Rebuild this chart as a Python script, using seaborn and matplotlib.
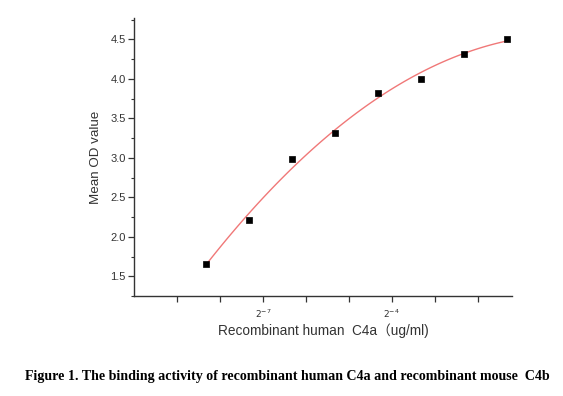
import numpy as np
import pandas as pd
import matplotlib
matplotlib.use("Agg")
import matplotlib.pyplot as plt
import seaborn as sns
from matplotlib.ticker import FixedLocator, MultipleLocator, FuncFormatter

# data: two-fold dilution series of recombinant human C4a (ug/ml)
conc = [0.003125, 0.00625, 0.0125, 0.025, 0.05, 0.1, 0.2, 0.4]
mean_od = [1.66, 2.21, 2.99, 3.31, 3.82, 4.00, 4.31, 4.51]
x_ticks = [-9, -8, -7, -6, -5, -4, -3, -2]
x_labeled = [-7, -4]

df = pd.DataFrame({"log2conc": np.log2(conc), "od": mean_od})

sns.set_style("ticks")
plt.rcParams["font.family"] = ["Liberation Sans", "Noto Sans CJK SC", "DejaVu Sans"]

fig = plt.figure(figsize=(5.63, 3.96), dpi=100)
ax = fig.add_axes([0.238, 0.2525, 0.671, 0.702])

# fitted curve
sns.regplot(x="log2conc", y="od", data=df, order=2, ci=None, scatter=False,
            line_kws={"color": "#f07878", "lw": 1.0}, ax=ax)
sns.scatterplot(x="log2conc", y="od", data=df, marker="s", s=22, color="black",
                edgecolor="black", linewidth=0.5, zorder=3, ax=ax)

ax.set_xlim(-10, -1.21)
ax.set_ylim(1.25, 4.77)
ax.xaxis.set_major_locator(FixedLocator(x_ticks))
ax.xaxis.set_major_formatter(FuncFormatter(
    lambda v, p: r"$2^{%d}$" % round(v) if round(v) in x_labeled else ""))
ax.yaxis.set_major_locator(MultipleLocator(0.5))
ax.yaxis.set_minor_locator(MultipleLocator(0.25))
ax.yaxis.set_major_formatter(FuncFormatter(lambda v, p: "%.1f" % v))

ax.tick_params(axis="both", which="major", length=4, width=0.9, labelsize=8,
               color="#333333", labelcolor="#333333")
ax.tick_params(axis="y", pad=2)
ax.tick_params(axis="x", pad=4, labelsize=6.5)
ax.tick_params(axis="y", which="minor", length=2.5, width=0.8, color="#333333")
for s in ["top", "right"]:
    ax.spines[s].set_visible(False)
for s in ["left", "bottom"]:
    ax.spines[s].set_linewidth(1.0)
    ax.spines[s].set_color("#333333")

ax.set_xlabel("Recombinant human  C4a\uff08ug/ml)", fontsize=9.8, color="#333333", labelpad=3)
ax.set_ylabel("Mean OD value", fontsize=9.6, color="#333333", labelpad=6)

fig.text(0.51, 0.048, "Figure 1. The binding activity of recombinant human C4a and recombinant mouse  C4b",
         ha="center", va="center", fontsize=10.1, fontweight="bold",
         family=["Liberation Serif", "DejaVu Serif"], color="black")

fig.savefig("out.png", dpi=100)
